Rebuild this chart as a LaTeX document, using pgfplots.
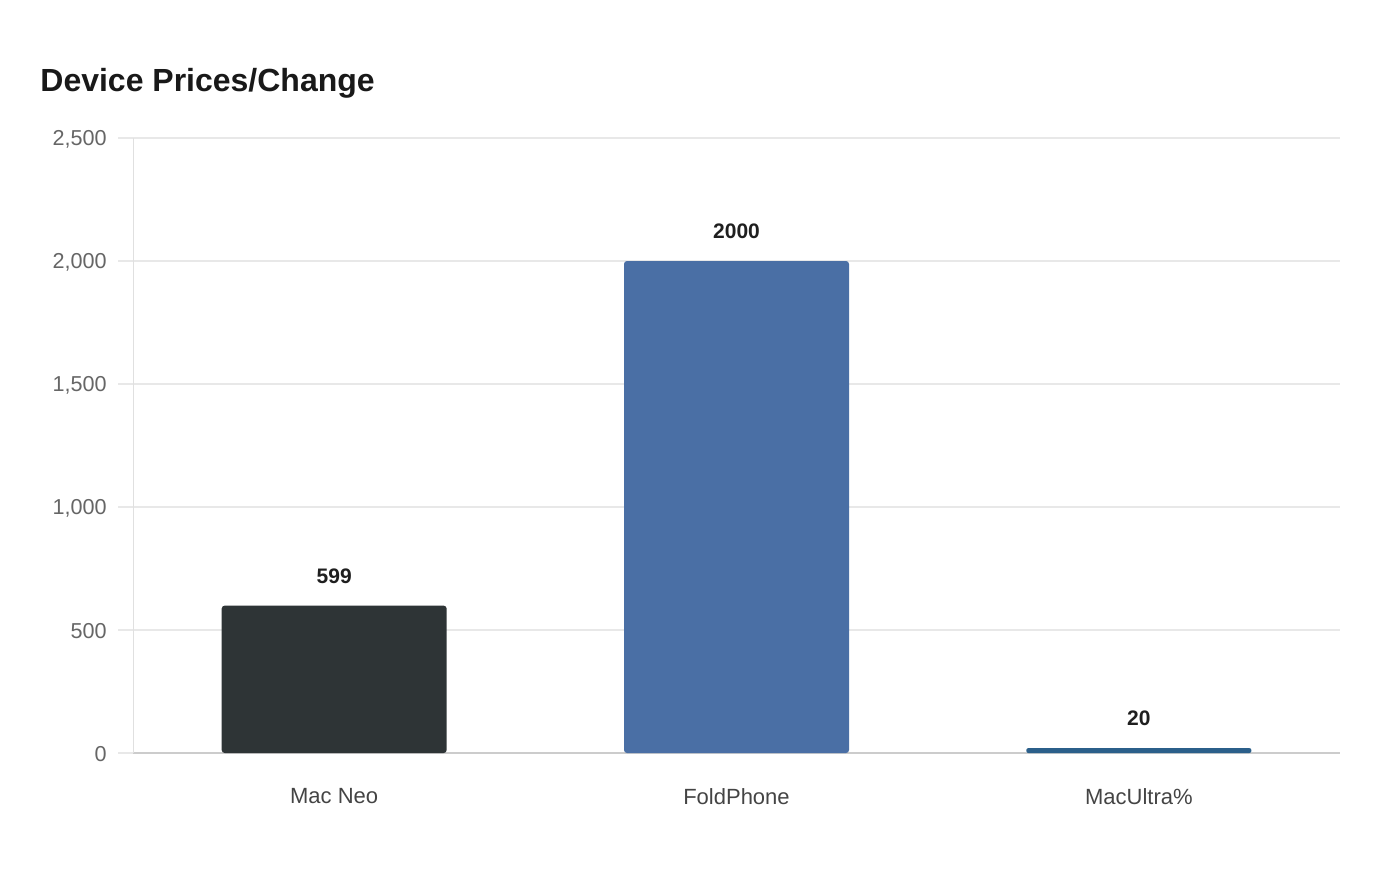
\documentclass[border=0pt]{standalone}
\usepackage{fontspec}
\setmainfont{Liberation Sans}
\usepackage{pgfplots}
\pgfplotsset{compat=1.18}

\definecolor{neo}{HTML}{2E3436}
\definecolor{fold}{HTML}{4A6FA5}
\definecolor{ultra}{HTML}{2B5F8A}
\definecolor{gridc}{HTML}{E8E8E8}
\definecolor{ticktxt}{HTML}{666666}
\definecolor{cattxt}{HTML}{444444}

\begin{document}
\begin{tikzpicture}
\path[use as bounding box] (0,0) rectangle (700pt,440pt);

\node[anchor=west, font=\fontsize{16}{19}\selectfont\bfseries, text=black!90, inner sep=0pt]
  at (20pt,398.5pt) {Device Prices/Change};

\begin{axis}[
    at={(66.5pt,63.5pt)}, anchor=south west,
    scale only axis,
    width=603.5pt, height=307.5pt,
    xmin=-0.5, xmax=2.5,
    ymin=0, ymax=2500,
    ytick={0,500,1000,1500,2000,2500},
    xtick={0,1,2},
    xticklabels={Mac Neo, FoldPhone, MacUltra\%},
    axis lines*=left,
    x axis line style={draw=black!20, line width=0.6pt},
    y axis line style={draw=black!12, line width=0.5pt},
    ymajorgrids,
    grid style={draw=gridc, line width=0.6pt},
    major tick length=7.5pt,
    ytick style={draw=gridc, line width=0.6pt},
    xtick style={draw=none},
    tick align=outside,
    /pgf/number format/assume math mode=true,
    /pgf/number format/1000 sep={,},
    yticklabel style={font=\fontsize{10.8}{12}\selectfont, text=ticktxt, inner sep=0pt, xshift=-5.5pt, yshift=-0.5pt},
    xticklabel style={font=\fontsize{11}{12}\selectfont, text=cattxt, inner sep=0pt, yshift=-10pt},
    ybar, bar width=112.5pt, bar shift=0pt,
    nodes near coords={\pgfmathprintnumber[1000 sep={}]{\pgfplotspointmeta}},
    every node near coord/.append style={font=\fontsize{10.5}{12}\selectfont\bfseries, text=black!88, anchor=south, inner sep=0pt, yshift=11pt},
    clip=false,
]
\addplot[fill=neo, draw=none, rounded corners=1.5pt] coordinates {(0,599)};
\addplot[fill=fold, draw=none, rounded corners=1.5pt] coordinates {(1,2000)};
\addplot[fill=ultra, draw=none, rounded corners=1pt] coordinates {(2,20)};
\end{axis}
\end{tikzpicture}
\end{document}
